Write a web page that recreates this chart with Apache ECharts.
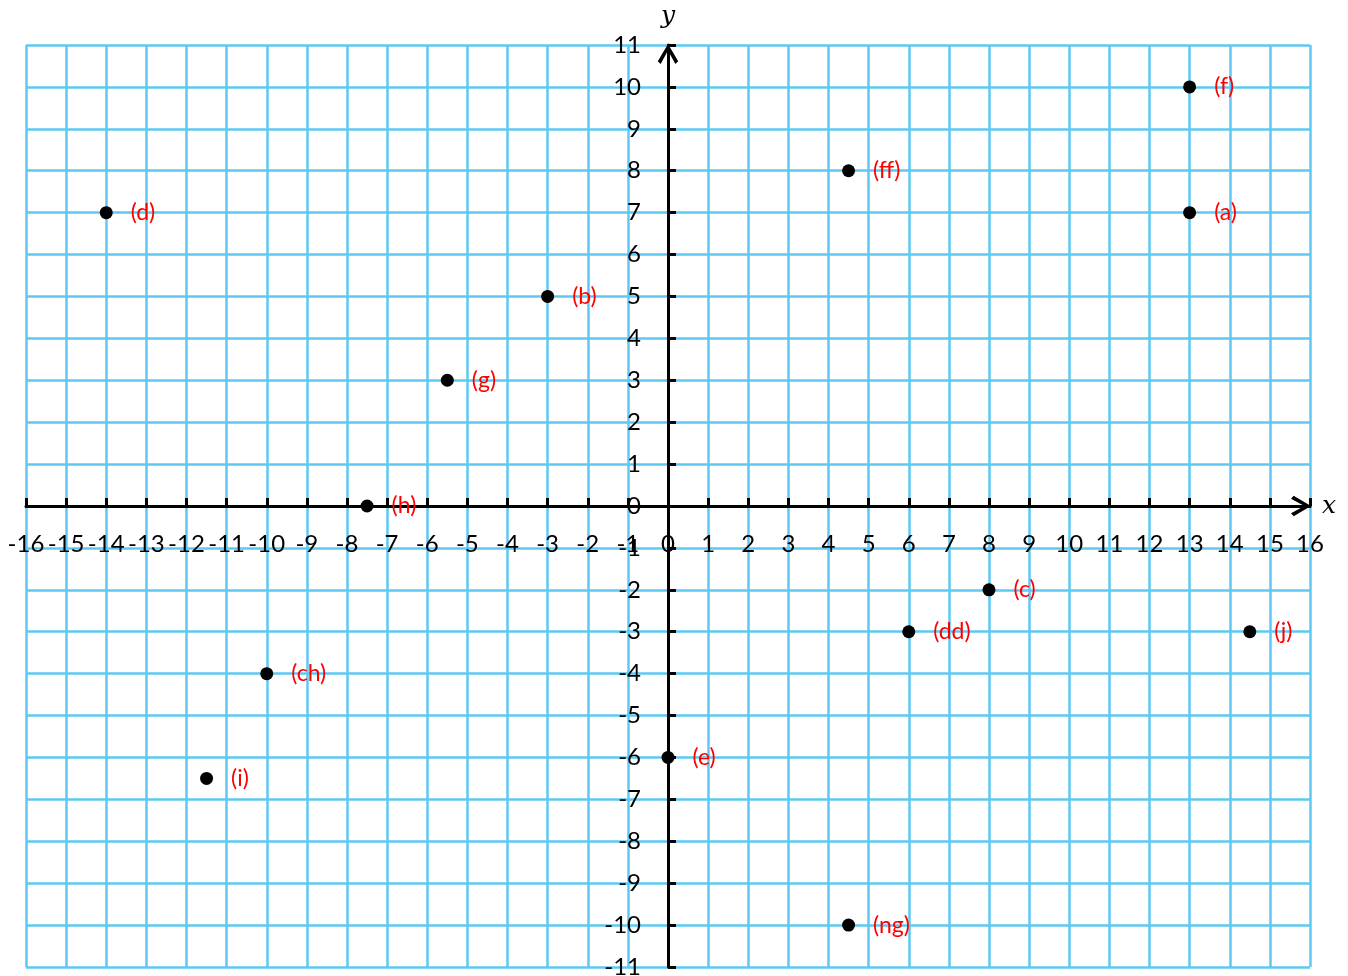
<!DOCTYPE html>
<html>
<head>
<meta charset="utf-8">
<script src="https://cdn.jsdelivr.net/npm/echarts@6/dist/echarts.min.js"></script>
<style>html,body{margin:0;padding:0;background:#fff;}#chart{width:1348px;height:976px;}</style>
</head>
<body>
<div id="chart"></div>
<script>
const pointNames = ['(d)','(b)','(g)','(h)','(ch)','(i)','(e)','(ng)','(dd)','(c)','(j)','(ff)','(f)','(a)'];
const pointX = [-14, -3, -5.5, -7.5, -10, -11.5, 0, 4.5, 6, 8, 14.5, 4.5, 13, 13];
const pointY = [7, 5, 3, 0, -4, -6.5, -6, -10, -3, -2, -3, 8, 10, 7];
const xRange = [-16, 16];
const yRange = [-11, 11];
const tickStep = 1;

const data = pointNames.map((n, i) => ({ name: n, value: [pointX[i], pointY[i]] }));
const chevron = 'path://M50,0 L100,85 L86,98 L50,32 L14,98 L0,85 Z';
const gridColor = '#5EC8F2';
const labelFont = 'Lato, "Open Sans", sans-serif';

const chart = echarts.init(document.getElementById('chart'));
const axisCommon = {
  type: 'value', interval: tickStep, nameLocation: 'end',
  axisLine: { onZero: false, lineStyle: { color: '#000', width: 3 }, symbol: ['none', chevron], symbolSize: [22, 20], symbolOffset: [0, -9] },
  axisTick: { show: true, inside: true, length: 8, lineStyle: { color: '#000', width: 3 } },
  splitLine: { show: true, lineStyle: { color: gridColor, width: 2.5 } }
};
chart.setOption({
  animation: false,
  backgroundColor: '#ffffff',
  grid: { left: 26, right: 38, top: 45, bottom: 9, containLabel: false, outerBoundsMode: 'none' },
  xAxis: Object.assign({}, axisCommon, {
    min: xRange[0], max: xRange[1],
    name: 'x', nameGap: 12,
    nameTextStyle: { fontFamily: '"DejaVu Serif", serif', fontStyle: 'italic', fontSize: 25, color: '#000', verticalAlign: 'middle', padding: [0, 0, 16, 0] },
    axisLabel: { margin: 26, color: '#000', fontSize: 24, fontFamily: labelFont, hideOverlap: false, formatter: v => String(v) }
  }),
  yAxis: Object.assign({}, axisCommon, {
    min: yRange[0], max: yRange[1],
    name: 'y', nameGap: 16,
    nameTextStyle: { fontFamily: '"DejaVu Serif", serif', fontStyle: 'italic', fontSize: 25, color: '#000' },
    axisLabel: { margin: 27, color: '#000', fontSize: 24, fontFamily: labelFont, hideOverlap: false, formatter: v => String(v) }
  }),
  series: [{
    type: 'scatter',
    data: data,
    symbol: 'circle',
    symbolSize: 13,
    itemStyle: { color: '#000', opacity: 1 },
    z: 5,
    label: {
      show: true, position: 'right', distance: 18,
      formatter: p => p.name,
      color: '#FF0000', fontSize: 23, fontFamily: labelFont,
      padding: [4, 0, 0, 0]
    }
  }]
});

// Move the axes to the origin using the library's own coordinate conversion
const origin = chart.convertToPixel({ gridIndex: 0 }, [0, 0]);
const lowerLeft = chart.convertToPixel({ gridIndex: 0 }, [xRange[0], yRange[0]]);
chart.setOption({
  xAxis: { offset: -(lowerLeft[1] - origin[1]) },
  yAxis: { offset: -(origin[0] - lowerLeft[0]) }
});
</script>
</body>
</html>
